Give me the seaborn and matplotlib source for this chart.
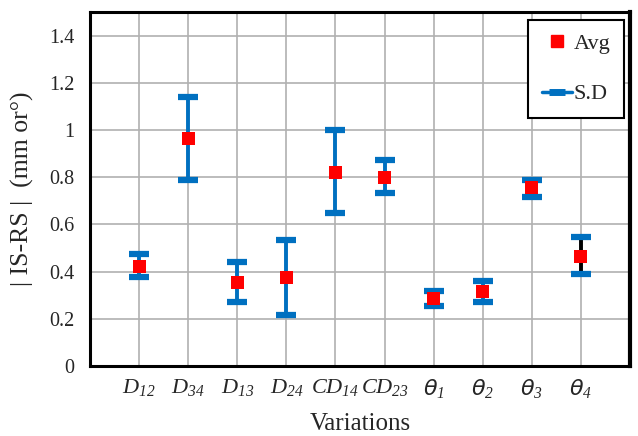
import matplotlib
matplotlib.use("Agg")
import matplotlib.pyplot as plt
from matplotlib.lines import Line2D
import seaborn as sns
import numpy as np
import pandas as pd

categories = [r"$D_{12}$", r"$D_{34}$", r"$D_{13}$", r"$D_{24}$",
              r"$CD_{14}$", r"$CD_{23}$", r"$\mathsf{\theta}_{1}$", r"$\mathsf{\theta}_{2}$",
              r"$\mathsf{\theta}_{3}$", r"$\mathsf{\theta}_{4}$"]
avg = [0.42, 0.965, 0.355, 0.375, 0.82, 0.80, 0.285, 0.315, 0.755, 0.465]
sd_upper = [0.475, 1.14, 0.442, 0.535, 1.0, 0.874, 0.318, 0.36, 0.79, 0.545]
sd_lower = [0.378, 0.789, 0.27, 0.215, 0.647, 0.733, 0.255, 0.27, 0.717, 0.39]
yticks = [0, 0.2, 0.4, 0.6, 0.8, 1, 1.2, 1.4]
ytick_labels = ["0", "0.2", "0.4", "0.6", "0.8", "1", "1.2", "1.4"]

sns.set_theme(style="white")
plt.rcParams["font.family"] = ["Liberation Serif", "DejaVu Serif"]
plt.rcParams["mathtext.fontset"] = "custom"
plt.rcParams["mathtext.rm"] = "Liberation Serif:italic"
plt.rcParams["mathtext.it"] = "Liberation Serif:italic"
plt.rcParams["mathtext.sf"] = "DejaVu Sans:italic"

pos = np.arange(1, len(categories) + 1)
df = pd.DataFrame({"x": pos, "avg": avg, "lo": sd_lower, "hi": sd_upper})

fig = plt.figure(figsize=(6.38, 4.36), dpi=100)
ax = fig.add_axes([90 / 638, 1 - 366 / 436, 540 / 638, 354 / 436])

blue = "#0070C0"
err = np.vstack([df["avg"] - df["lo"], df["hi"] - df["avg"]])
_, caps, bars = ax.errorbar(df["x"], df["avg"], yerr=err, fmt="none", ecolor=blue,
                            elinewidth=2.8, capsize=7.5, capthick=4.5, zorder=3)
cols = [blue] * (len(pos) - 1) + ["black"]
bars[0].set_color(cols)
for c in caps:
    c.set_solid_capstyle("round")

sns.scatterplot(data=df, x="x", y="avg", marker="s", s=88, color="#FF0000",
                edgecolor="none", ax=ax, zorder=4, legend=False)

ax.set_xlim(0, 11)
ax.set_ylim(0, 1.5)
ax.set_xticks(np.arange(0, 12))
ax.set_xticklabels([""] + categories + [""], fontsize=16)
ax.set_yticks(yticks)
ax.set_yticklabels(ytick_labels, fontsize=14.5)
ax.grid(True, color="#b0b0b0", linewidth=1.2)
ax.set_axisbelow(True)
ax.tick_params(axis="x", length=5, color="#b0b0b0", width=1.2, pad=3)
ax.tick_params(axis="y", length=5, color="#808080", width=1.2, pad=6)
for name, s in ax.spines.items():
    s.set_visible(True)
    s.set_color("black")
    s.set_linewidth(2.2)
ax.spines["right"].set_linewidth(3)

ax.set_xlabel("Variations", fontsize=18, labelpad=9)
ax.set_ylabel("| IS-RS |  (mm or°)", fontsize=18.5, labelpad=11)

handles = [
    Line2D([], [], marker="s", linestyle="none", color="#FF0000", markersize=9),
    Line2D([], [], color=blue, linewidth=2.5, marker="_", markersize=11,
           markeredgewidth=5, markeredgecolor=blue),
]
leg = ax.legend(handles, ["Avg", "S.D"], loc="upper right", fontsize=16,
                frameon=True, fancybox=False, edgecolor="black", framealpha=1,
                labelspacing=1.35, handlelength=1.35, handletextpad=0.1,
                borderpad=0.6, borderaxespad=0, bbox_to_anchor=(534 / 540, 346 / 354))
leg.get_frame().set_linewidth(1.5)

fig.savefig("out.png", dpi=100)
